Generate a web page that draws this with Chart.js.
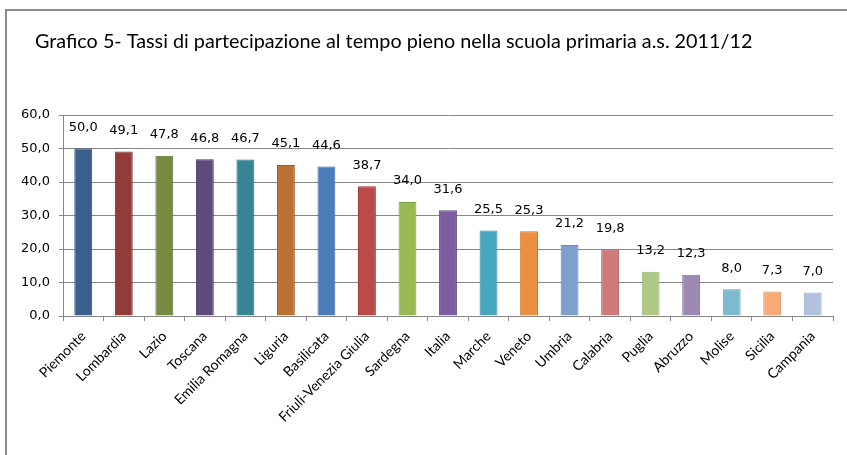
<!DOCTYPE html>
<html>
<head>
<meta charset="utf-8">
<script src="https://cdn.jsdelivr.net/npm/chart.js@4"></script>
<style>
  body { margin: 0; background: #fff; overflow: hidden; }
  #frame { position: absolute; left: 5px; top: 9px; width: 860px; height: 460px;
           border-top: 2px solid #8a8a8a; border-left: 2px solid #8a8a8a; }
  #chart { position: absolute; left: 0; top: 0; }
</style>
</head>
<body>
<div id="frame"></div>
<canvas id="chart" width="847" height="455"></canvas>
<script>
const titleText = 'Grafico 5- Tassi di partecipazione al tempo pieno nella scuola primaria a.s. 2011/12'

const regions = ['Piemonte', 'Lombardia', 'Lazio', 'Toscana', 'Emilia Romagna', 'Liguria',
  'Basilicata', 'Friuli-Venezia Giulia', 'Sardegna', 'Italia', 'Marche', 'Veneto', 'Umbria',
  'Calabria', 'Puglia', 'Abruzzo', 'Molise', 'Sicilia', 'Campania']

const rates = [50.0, 49.1, 47.8, 46.8, 46.7, 45.1, 44.6, 38.7, 34.0, 31.6, 25.5, 25.3, 21.2,
  19.8, 13.2, 12.3, 8.0, 7.3, 7.0]

const barColors = ['#3a5f8c', '#923b38', '#748c41', '#5f4a7b', '#378495', '#bb7034',
  '#4a7ebb', '#bb4b49', '#98b954', '#7b5e9f', '#47a6c0', '#ed8f41', '#7f9fcc',
  '#cd7c7b', '#afc886', '#9d89b3', '#7dbad0', '#f8aa77', '#b2c2de']

const borderColors = ['#2b4c75', '#7a2c2a', '#5c7232', '#4a3863', '#276b7c', '#9c5a27',
  '#3a6aa3', '#a03b39', '#7f9f42', '#634a86', '#2f8aa3', '#cc7530', '#6a89b8',
  '#b46665', '#94ad6d', '#8473a0', '#62a1b8', '#dd9060', '#98aac9']

const yTicks = [0, 10, 20, 30, 40, 50, 60]

function fmt(v){
  return v.toFixed(1).replace('.', ',')
}

const titlePlugin = {
  id: 'titlePlugin',
  afterDraw(chart){
    const ctx = chart.ctx
    ctx.save()
    ctx.font = '19.8px Lato'
    ctx.fillStyle = '#000'
    ctx.textBaseline = 'alphabetic'
    ctx.textAlign = 'left'
    ctx.fillText(titleText, 35, 48)
    ctx.restore()
  }
}

const valueLabels = {
  id: 'valueLabels',
  afterDatasetsDraw(chart){
    const ctx = chart.ctx
    ctx.save()
    ctx.font = '13px "DejaVu Sans"'
    ctx.fillStyle = '#000'
    ctx.textAlign = 'center'
    ctx.textBaseline = 'middle'
    chart.getDatasetMeta(0).data.forEach((bar, i) => {
      ctx.fillText(fmt(rates[i]), bar.x, bar.y - 21)
    })
    ctx.restore()
  }
}

const chart = new Chart(document.getElementById('chart'), {
  type: 'bar',
  data: {
    labels: regions,
    datasets: [{
      data: rates,
      backgroundColor: barColors,
      borderColor: borderColors,
      borderWidth: 1,
      barPercentage: 0.7,
      categoryPercentage: 0.63
    }]
  },
  options: {
    responsive: false,
    animation: false,
    layout: { padding: { left: 10, top: 115, right: 14, bottom: 0 } },
    plugins: {
      legend: { display: false },
      tooltip: { enabled: false }
    },
    scales: {
      x: {
        afterFit(scale){ scale.height = 139 },
        grid: { offset: true, drawOnChartArea: false, tickLength: 5, color: '#868686' },
        border: { color: '#868686' },
        ticks: {
          minRotation: 45, maxRotation: 45, padding: 7,
          color: '#000', font: { family: 'Lato', size: 14 }
        }
      },
      y: {
        min: 0, max: 60,
        afterFit(scale){ scale.width = 53 },
        afterBuildTicks(scale){ scale.ticks = yTicks.map(v => ({ value: v })) },
        grid: { color: '#868686', tickLength: 4 },
        border: { color: '#868686' },
        ticks: {
          padding: 9, color: '#000',
          font: { family: 'DejaVu Sans', size: 13 },
          callback: v => fmt(v)
        }
      }
    }
  },
  plugins: [titlePlugin, valueLabels]
})
</script>
</body>
</html>
